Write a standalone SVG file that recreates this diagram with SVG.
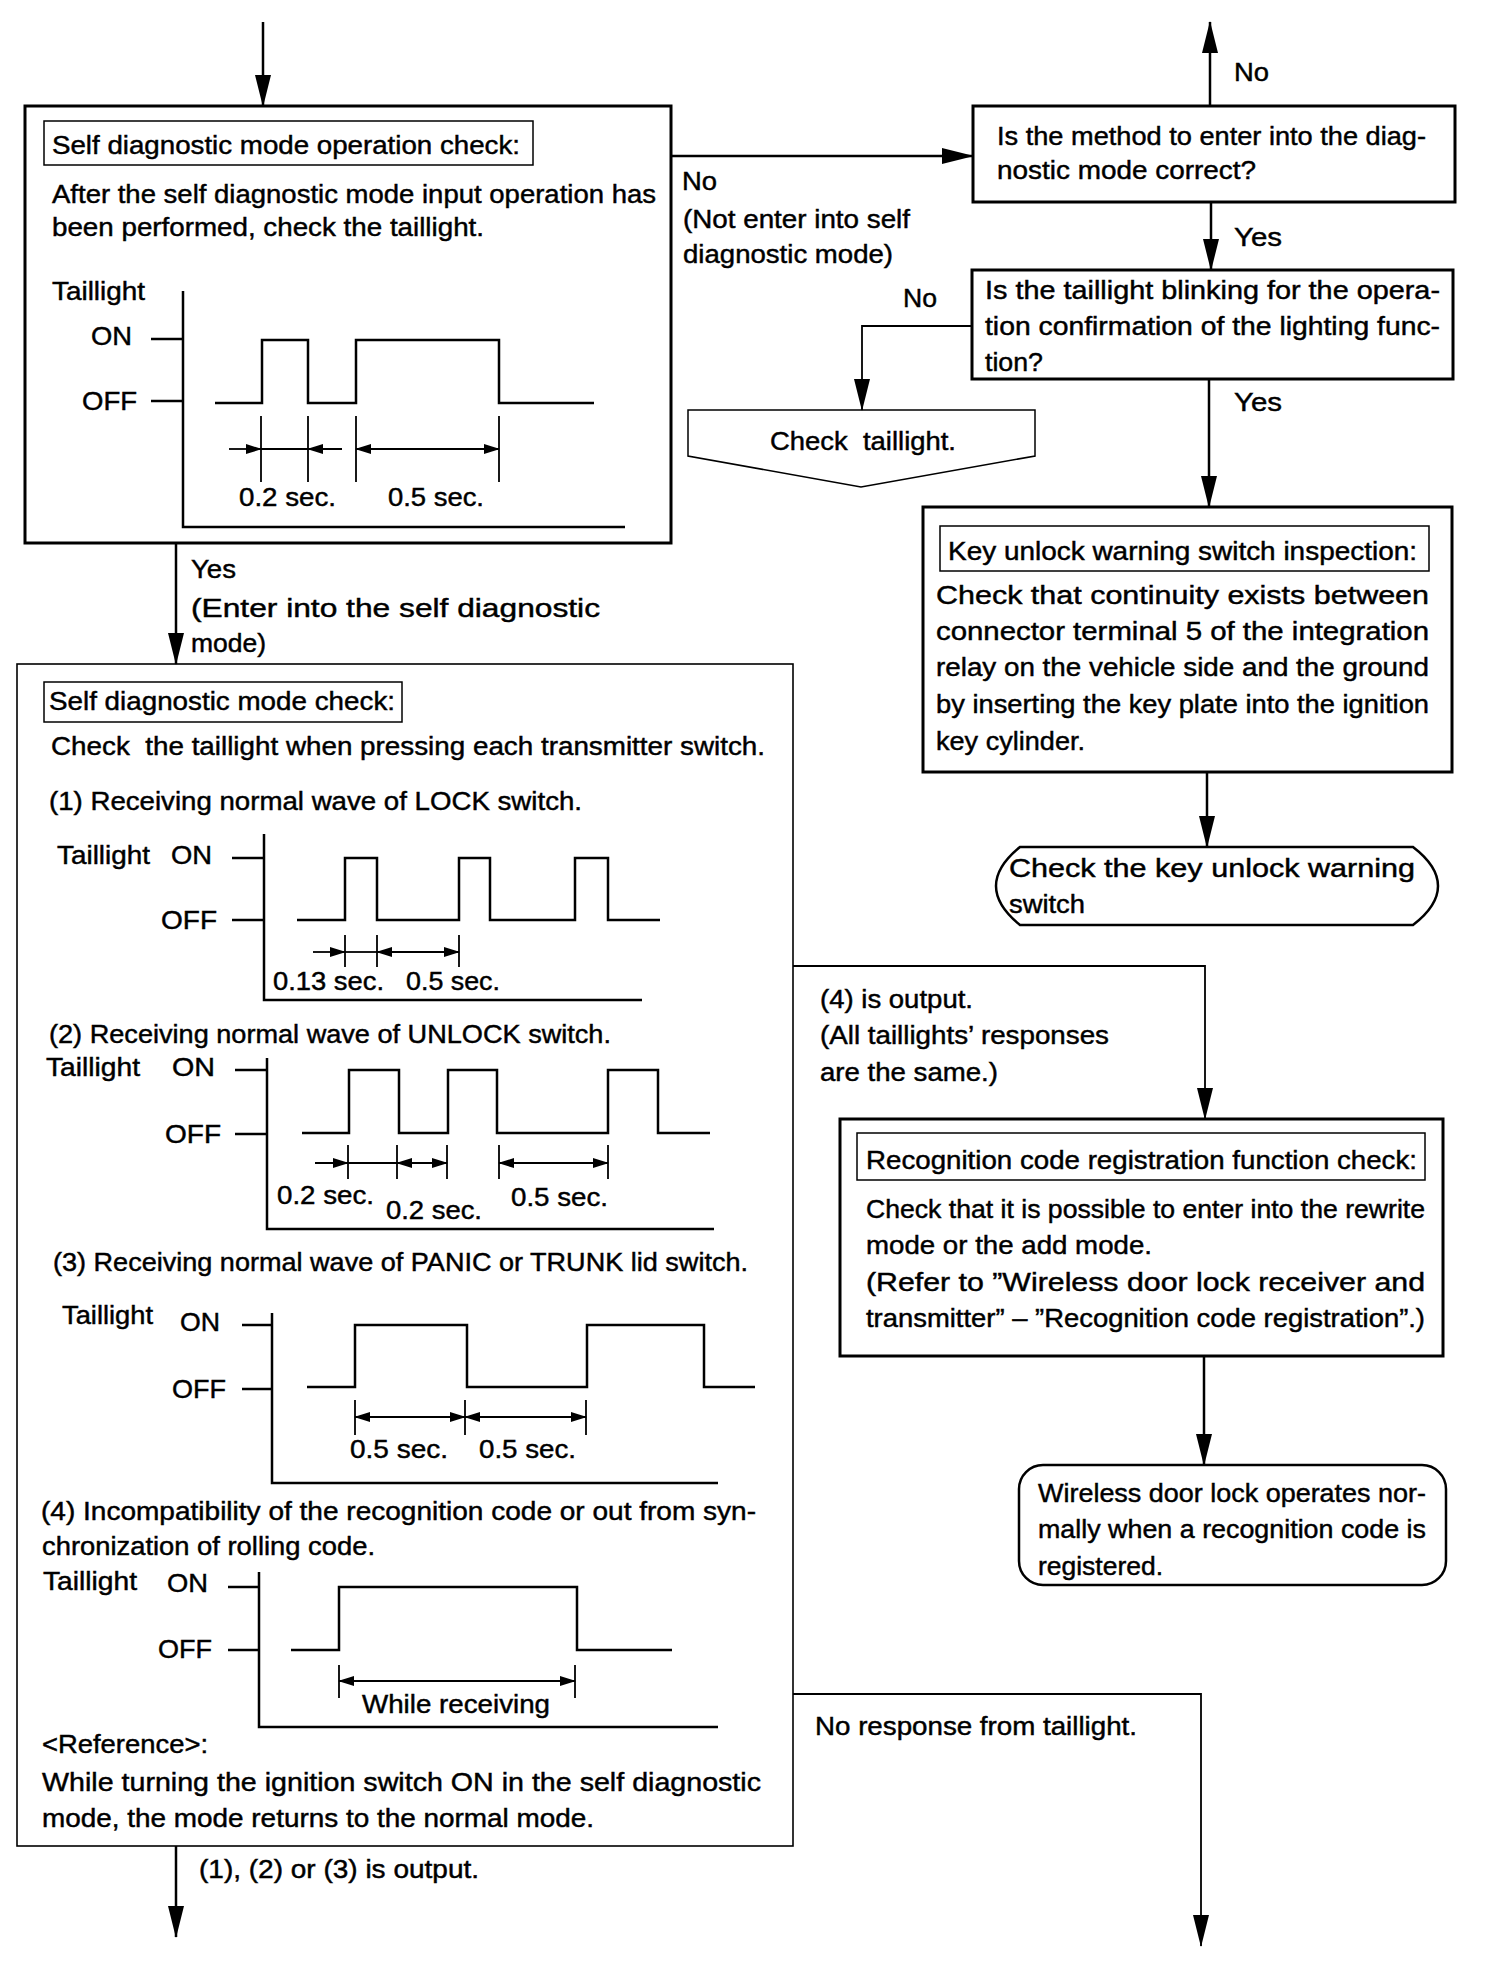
<svg xmlns="http://www.w3.org/2000/svg" width="1504" height="1962" viewBox="0 0 1504 1962">
<style>
text{font-family:"Liberation Sans",Arial,Helvetica,sans-serif;font-size:26px;fill:#000;stroke:#000;stroke-width:0.45;white-space:pre}
.bx{fill:none;stroke:#000;stroke-width:3}
.tb{fill:none;stroke:#000;stroke-width:1.5}
.tn{fill:none;stroke:#000;stroke-width:1.6}
.wv{fill:none;stroke:#000;stroke-width:2.5}
.dm{fill:none;stroke:#000;stroke-width:1.8}
.cn{fill:none;stroke:#000;stroke-width:2.5}
.cl{fill:none;stroke:#000;stroke-width:1.8}
</style>
<defs>
<marker id="ah" viewBox="0 0 32 16" refX="31" refY="8" markerWidth="32" markerHeight="16" markerUnits="userSpaceOnUse" orient="auto"><path d="M0,0 L32,8 L0,16 Z" fill="#000"/></marker>
<marker id="sa" viewBox="0 0 16 10" refX="15" refY="5" markerWidth="16" markerHeight="10" markerUnits="userSpaceOnUse" orient="auto-start-reverse"><path d="M0,0 L16,5 L0,10 Z" fill="#000"/></marker>
</defs>
<rect width="1504" height="1962" fill="#fff"/>

<g id="connectors">
<line class="cn" x1="263" y1="22" x2="263" y2="106" marker-end="url(#ah)"/>
<line class="cn" x1="671" y1="156" x2="973" y2="156" marker-end="url(#ah)"/>
<line class="cn" x1="1210" y1="106" x2="1210" y2="22" marker-end="url(#ah)"/>
<line class="cn" x1="1211" y1="202" x2="1211" y2="270" marker-end="url(#ah)"/>
<polyline class="cl" points="972,326 862,326 862,410" marker-end="url(#ah)"/>
<line class="cn" x1="1209" y1="379" x2="1209" y2="507" marker-end="url(#ah)"/>
<line class="cn" x1="1207" y1="772" x2="1207" y2="847" marker-end="url(#ah)"/>
<line class="cn" x1="176" y1="543" x2="176" y2="664" marker-end="url(#ah)"/>
<polyline class="cl" points="793,966 1205,966 1205,1119" marker-end="url(#ah)"/>
<line class="cn" x1="1204" y1="1356" x2="1204" y2="1465" marker-end="url(#ah)"/>
<polyline class="cl" points="793,1694 1201,1694 1201,1946" marker-end="url(#ah)"/>
<line class="cn" x1="176" y1="1846" x2="176" y2="1937" marker-end="url(#ah)"/>
<text x="682" y="190" textLength="35" lengthAdjust="spacingAndGlyphs">No</text>
<text x="683" y="228" textLength="227" lengthAdjust="spacingAndGlyphs">(Not enter into self</text>
<text x="683" y="263" textLength="210" lengthAdjust="spacingAndGlyphs">diagnostic mode)</text>
<text x="1234" y="81" textLength="35" lengthAdjust="spacingAndGlyphs">No</text>
<text x="1234" y="246" textLength="48" lengthAdjust="spacingAndGlyphs">Yes</text>
<text x="903" y="307" textLength="34" lengthAdjust="spacingAndGlyphs">No</text>
<text x="1234" y="411" textLength="48" lengthAdjust="spacingAndGlyphs">Yes</text>
<text x="191" y="578" textLength="45" lengthAdjust="spacingAndGlyphs">Yes</text>
<text x="191" y="617" textLength="409" lengthAdjust="spacingAndGlyphs">(Enter into the self diagnostic</text>
<text x="191" y="652" textLength="75" lengthAdjust="spacingAndGlyphs">mode)</text>
<text x="820" y="1008" textLength="153" lengthAdjust="spacingAndGlyphs">(4) is output.</text>
<text x="820" y="1044" textLength="289" lengthAdjust="spacingAndGlyphs">(All taillights’ responses</text>
<text x="820" y="1081" textLength="178" lengthAdjust="spacingAndGlyphs">are the same.)</text>
<text x="815" y="1735" textLength="322" lengthAdjust="spacingAndGlyphs">No response from taillight.</text>
<text x="199" y="1878" textLength="280" lengthAdjust="spacingAndGlyphs">(1), (2) or (3) is output.</text>
</g>

<g id="node-operation-check">
<rect class="bx" x="25" y="106" width="646" height="437"/>
<rect class="tb" x="44" y="121" width="489" height="44"/>
<text x="52" y="154" textLength="468" lengthAdjust="spacingAndGlyphs">Self diagnostic mode operation check:</text>
<text x="52" y="203" textLength="604" lengthAdjust="spacingAndGlyphs">After the self diagnostic mode input operation has</text>
<text x="52" y="236" textLength="432" lengthAdjust="spacingAndGlyphs">been performed, check the taillight.</text>
<text x="52" y="300" textLength="93" lengthAdjust="spacingAndGlyphs">Taillight</text>
<text x="91" y="345" textLength="41" lengthAdjust="spacingAndGlyphs">ON</text>
<text x="82" y="410" textLength="55" lengthAdjust="spacingAndGlyphs">OFF</text>
<polyline class="wv" points="183,291 183,527 625,527"/>
<line class="wv" x1="151" y1="339" x2="183" y2="339"/>
<line class="wv" x1="151" y1="401" x2="183" y2="401"/>
<polyline class="wv" points="215,403 262,403 262,340 308,340 308,403 356,403 356,340 499,340 499,403 594,403"/>
<g class="dm">
<line x1="261" y1="416" x2="261" y2="482"/><line x1="308" y1="416" x2="308" y2="482"/>
<line x1="356" y1="416" x2="356" y2="482"/><line x1="499" y1="416" x2="499" y2="482"/>
<line x1="229" y1="449" x2="261" y2="449" marker-end="url(#sa)"/>
<line x1="261" y1="449" x2="308" y2="449"/>
<line x1="342" y1="449" x2="308" y2="449" marker-end="url(#sa)"/>
<line x1="356" y1="449" x2="499" y2="449" marker-start="url(#sa)" marker-end="url(#sa)"/>
</g>
<text x="239" y="506" textLength="97" lengthAdjust="spacingAndGlyphs">0.2 sec.</text>
<text x="388" y="506" textLength="96" lengthAdjust="spacingAndGlyphs">0.5 sec.</text>
</g>

<g id="node-method-correct">
<rect class="bx" x="973" y="106" width="482" height="96"/>
<text x="997" y="145" textLength="429" lengthAdjust="spacingAndGlyphs">Is the method to enter into the diag-</text>
<text x="997" y="179" textLength="259" lengthAdjust="spacingAndGlyphs">nostic mode correct?</text>
</g>

<g id="node-taillight-blinking">
<rect class="bx" x="972" y="270" width="481" height="109"/>
<text x="985" y="299" textLength="455" lengthAdjust="spacingAndGlyphs">Is the taillight blinking for the opera-</text>
<text x="985" y="335" textLength="455" lengthAdjust="spacingAndGlyphs">tion confirmation of the lighting func-</text>
<text x="985" y="371" textLength="58" lengthAdjust="spacingAndGlyphs">tion?</text>
</g>

<g id="node-check-taillight">
<polygon class="tb" points="688,410 1035,410 1035,456 861,487 688,456"/>
<text x="770" y="450" textLength="186" lengthAdjust="spacingAndGlyphs">Check  taillight.</text>
</g>

<g id="node-key-unlock-inspection">
<rect class="bx" x="923" y="507" width="529" height="265"/>
<rect class="tb" x="940" y="526" width="489" height="45"/>
<text x="948" y="560" textLength="469" lengthAdjust="spacingAndGlyphs">Key unlock warning switch inspection:</text>
<text x="936" y="604" textLength="493" lengthAdjust="spacingAndGlyphs">Check that continuity exists between</text>
<text x="936" y="640" textLength="493" lengthAdjust="spacingAndGlyphs">connector terminal 5 of the integration</text>
<text x="936" y="676" textLength="493" lengthAdjust="spacingAndGlyphs">relay on the vehicle side and the ground</text>
<text x="936" y="713" textLength="493" lengthAdjust="spacingAndGlyphs">by inserting the key plate into the ignition</text>
<text x="936" y="750" textLength="149" lengthAdjust="spacingAndGlyphs">key cylinder.</text>
</g>

<g id="node-check-key-unlock-switch">
<path class="wv" d="M1020,847 L1413,847 C1430,860 1438,873 1438,886 C1438,899 1430,912 1413,925 L1020,925 C1004,912 996,899 996,886 C996,873 1004,860 1020,847 Z"/>
<text x="1009" y="877" textLength="406" lengthAdjust="spacingAndGlyphs">Check the key unlock warning</text>
<text x="1009" y="913" textLength="76" lengthAdjust="spacingAndGlyphs">switch</text>
</g>

<g id="node-mode-check">
<rect class="tn" x="17" y="664" width="776" height="1182"/>
<rect class="tb" x="44" y="682" width="358" height="40"/>
<text x="49" y="710" textLength="346" lengthAdjust="spacingAndGlyphs">Self diagnostic mode check:</text>
<text x="51" y="755" textLength="714" lengthAdjust="spacingAndGlyphs">Check  the taillight when pressing each transmitter switch.</text>
<text x="49" y="810" textLength="533" lengthAdjust="spacingAndGlyphs">(1) Receiving normal wave of LOCK switch.</text>
<text x="57" y="864" textLength="93" lengthAdjust="spacingAndGlyphs">Taillight</text>
<text x="171" y="864" textLength="41" lengthAdjust="spacingAndGlyphs">ON</text>
<text x="161" y="929" textLength="56" lengthAdjust="spacingAndGlyphs">OFF</text>
<polyline class="wv" points="264,834 264,1000 642,1000"/>
<line class="wv" x1="232" y1="858" x2="264" y2="858"/>
<line class="wv" x1="232" y1="920" x2="264" y2="920"/>
<polyline class="wv" points="297,920 345,920 345,858 377,858 377,920 459,920 459,858 490,858 490,920 575,920 575,858 608,858 608,920 660,920"/>
<g class="dm">
<line x1="345" y1="935" x2="345" y2="967"/><line x1="377" y1="935" x2="377" y2="967"/><line x1="459" y1="935" x2="459" y2="967"/>
<line x1="313" y1="952" x2="345" y2="952" marker-end="url(#sa)"/>
<line x1="345" y1="952" x2="377" y2="952"/>
<line x1="377" y1="952" x2="459" y2="952" marker-start="url(#sa)" marker-end="url(#sa)"/>
</g>
<text x="273" y="990" textLength="111" lengthAdjust="spacingAndGlyphs">0.13 sec.</text>
<text x="406" y="990" textLength="94" lengthAdjust="spacingAndGlyphs">0.5 sec.</text>

<text x="49" y="1043" textLength="562" lengthAdjust="spacingAndGlyphs">(2) Receiving normal wave of UNLOCK switch.</text>
<text x="46" y="1076" textLength="94" lengthAdjust="spacingAndGlyphs">Taillight</text>
<text x="172" y="1076" textLength="43" lengthAdjust="spacingAndGlyphs">ON</text>
<text x="165" y="1143" textLength="56" lengthAdjust="spacingAndGlyphs">OFF</text>
<polyline class="wv" points="267,1058 267,1229 714,1229"/>
<line class="wv" x1="235" y1="1070" x2="267" y2="1070"/>
<line class="wv" x1="235" y1="1134" x2="267" y2="1134"/>
<polyline class="wv" points="302,1133 349,1133 349,1070 399,1070 399,1133 448,1133 448,1070 497,1070 497,1133 608,1133 608,1070 658,1070 658,1133 710,1133"/>
<g class="dm">
<line x1="348" y1="1145" x2="348" y2="1179"/><line x1="397" y1="1145" x2="397" y2="1179"/><line x1="447" y1="1145" x2="447" y2="1179"/><line x1="499" y1="1145" x2="499" y2="1179"/><line x1="608" y1="1145" x2="608" y2="1179"/>
<line x1="315" y1="1163" x2="348" y2="1163" marker-end="url(#sa)"/>
<line x1="348" y1="1163" x2="397" y2="1163"/>
<line x1="397" y1="1163" x2="447" y2="1163" marker-start="url(#sa)" marker-end="url(#sa)"/>
<line x1="499" y1="1163" x2="608" y2="1163" marker-start="url(#sa)" marker-end="url(#sa)"/>
</g>
<text x="277" y="1204" textLength="97" lengthAdjust="spacingAndGlyphs">0.2 sec.</text>
<text x="386" y="1219" textLength="96" lengthAdjust="spacingAndGlyphs">0.2 sec.</text>
<text x="511" y="1206" textLength="97" lengthAdjust="spacingAndGlyphs">0.5 sec.</text>

<text x="53" y="1271" textLength="695" lengthAdjust="spacingAndGlyphs">(3) Receiving normal wave of PANIC or TRUNK lid switch.</text>
<text x="62" y="1324" textLength="91" lengthAdjust="spacingAndGlyphs">Taillight</text>
<text x="180" y="1331" textLength="40" lengthAdjust="spacingAndGlyphs">ON</text>
<text x="172" y="1398" textLength="54" lengthAdjust="spacingAndGlyphs">OFF</text>
<polyline class="wv" points="272,1313 272,1483 718,1483"/>
<line class="wv" x1="242" y1="1325" x2="272" y2="1325"/>
<line class="wv" x1="242" y1="1389" x2="272" y2="1389"/>
<polyline class="wv" points="307,1387 355,1387 355,1325 467,1325 467,1387 587,1387 587,1325 704,1325 704,1387 755,1387"/>
<g class="dm">
<line x1="355" y1="1400" x2="355" y2="1435"/><line x1="465" y1="1400" x2="465" y2="1435"/><line x1="586" y1="1400" x2="586" y2="1435"/>
<line x1="355" y1="1417" x2="465" y2="1417" marker-start="url(#sa)" marker-end="url(#sa)"/>
<line x1="465" y1="1417" x2="586" y2="1417" marker-start="url(#sa)" marker-end="url(#sa)"/>
</g>
<text x="350" y="1458" textLength="98" lengthAdjust="spacingAndGlyphs">0.5 sec.</text>
<text x="479" y="1458" textLength="97" lengthAdjust="spacingAndGlyphs">0.5 sec.</text>

<text x="41" y="1520" textLength="715" lengthAdjust="spacingAndGlyphs">(4) Incompatibility of the recognition code or out from syn-</text>
<text x="42" y="1555" textLength="333" lengthAdjust="spacingAndGlyphs">chronization of rolling code.</text>
<text x="43" y="1590" textLength="94" lengthAdjust="spacingAndGlyphs">Taillight</text>
<text x="167" y="1592" textLength="41" lengthAdjust="spacingAndGlyphs">ON</text>
<text x="158" y="1658" textLength="54" lengthAdjust="spacingAndGlyphs">OFF</text>
<polyline class="wv" points="259,1572 259,1727 718,1727"/>
<line class="wv" x1="228" y1="1587" x2="259" y2="1587"/>
<line class="wv" x1="228" y1="1650" x2="259" y2="1650"/>
<polyline class="wv" points="291,1650 339,1650 339,1587 577,1587 577,1650 672,1650"/>
<g class="dm">
<line x1="339" y1="1665" x2="339" y2="1698"/><line x1="575" y1="1665" x2="575" y2="1698"/>
<line x1="339" y1="1681" x2="575" y2="1681" marker-start="url(#sa)" marker-end="url(#sa)"/>
</g>
<text x="362" y="1713" textLength="188" lengthAdjust="spacingAndGlyphs">While receiving</text>
<text x="42" y="1753" textLength="166" lengthAdjust="spacingAndGlyphs">&lt;Reference&gt;:</text>
<text x="42" y="1791" textLength="719" lengthAdjust="spacingAndGlyphs">While turning the ignition switch ON in the self diagnostic</text>
<text x="42" y="1827" textLength="552" lengthAdjust="spacingAndGlyphs">mode, the mode returns to the normal mode.</text>
</g>

<g id="node-recognition-check">
<rect class="bx" x="840" y="1119" width="603" height="237"/>
<rect class="tb" x="857" y="1133" width="568" height="47"/>
<text x="866" y="1169" textLength="551" lengthAdjust="spacingAndGlyphs">Recognition code registration function check:</text>
<text x="866" y="1218" textLength="559" lengthAdjust="spacingAndGlyphs">Check that it is possible to enter into the rewrite</text>
<text x="866" y="1254" textLength="286" lengthAdjust="spacingAndGlyphs">mode or the add mode.</text>
<text x="866" y="1291" textLength="559" lengthAdjust="spacingAndGlyphs">(Refer to ”Wireless door lock receiver and</text>
<text x="866" y="1327" textLength="559" lengthAdjust="spacingAndGlyphs">transmitter” – ”Recognition code registration”.)</text>
</g>

<g id="node-operates-normally">
<rect class="wv" x="1019" y="1465" width="427" height="120" rx="24"/>
<text x="1038" y="1502" textLength="388" lengthAdjust="spacingAndGlyphs">Wireless door lock operates nor-</text>
<text x="1038" y="1538" textLength="388" lengthAdjust="spacingAndGlyphs">mally when a recognition code is</text>
<text x="1038" y="1575" textLength="125" lengthAdjust="spacingAndGlyphs">registered.</text>
</g>
</svg>
